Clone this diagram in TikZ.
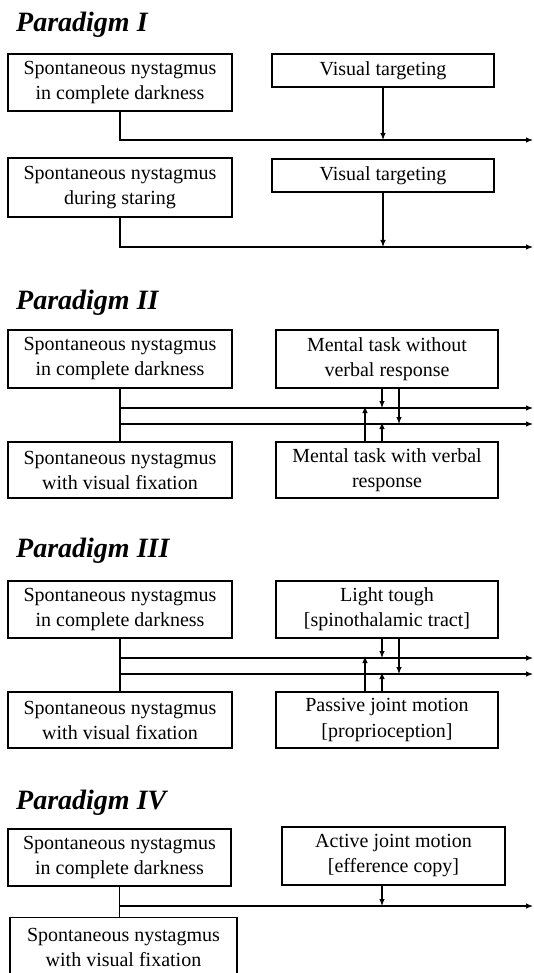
\documentclass[tikz,border=0pt]{standalone}
\usepackage{fontspec}
\setmainfont{Liberation Serif}
\usetikzlibrary{arrows.meta}
\begin{document}
\begin{tikzpicture}[x=1pt,y=-1pt,
  box/.style={draw, line width=1.1pt, align=center, inner sep=0pt, font=\fontsize{20}{25}\selectfont},
  ttl/.style={anchor=base west, inner sep=0pt, font=\fontsize{28}{30}\selectfont\bfseries\itshape},
  conn/.style={line width=1.1pt},
  arr/.style={line width=1.1pt, -{Latex[length=7pt,width=5.5pt]}}]
\useasboundingbox[fill=white] (0,0) rectangle (533,973);

% ---------- Paradigm I ----------
\node[ttl] (t1) at (16,32) {Paradigm I};
\node[box, minimum width=224pt, minimum height=57pt] (a1) at (120,82.5) {Spontaneous nystagmus\\in complete darkness};
\node[box, minimum width=222pt, minimum height=33pt] (v1) at (383,70.5) {Visual targeting};
\coordinate (e1) at (533,140);
\draw[arr] (a1.south) |- (e1);
\draw[arr] (v1.south) -- (v1.south |- e1);

\node[box, minimum width=224pt, minimum height=59pt] (a2) at (120,187.5) {Spontaneous nystagmus\\during staring};
\node[box, minimum width=222pt, minimum height=33pt] (v2) at (383,175.5) {Visual targeting};
\coordinate (e2) at (533,247);
\draw[arr] (a2.south) |- (e2);
\draw[arr] (v2.south) -- (v2.south |- e2);

% ---------- Paradigm II ----------
\node[ttl] (t2) at (16,309) {Paradigm II};
\node[box, minimum width=224pt, minimum height=58pt] (b1) at (120,359) {Spontaneous nystagmus\\in complete darkness};
\node[box, minimum width=224pt, minimum height=56pt] (b2) at (120,470) {Spontaneous nystagmus\\with visual fixation};
\node[box, minimum width=222pt, minimum height=58pt] (m1) at (387,359) {Mental task without\\verbal response};
\node[box, minimum width=222pt, minimum height=56pt] (m2) at (387,470) {Mental task with verbal\\response};
\coordinate (f1) at (533,408);
\coordinate (f2) at (533,424);
\draw[conn] (b1.south) -- (b2.north);
\draw[arr] (b1.south |- f1) -- (f1);
\draw[arr] (b1.south |- f2) -- (f2);
\draw[arr] ([xshift=-5pt]m1.south) -- ([xshift=-5pt]m1.south |- f1);
\draw[arr] ([xshift=12pt]m1.south) -- ([xshift=12pt]m1.south |- f2);
\draw[arr] ([xshift=-22pt]m2.north) -- ([xshift=-22pt,yshift=2pt]m2.north |- f1);
\draw[arr] ([xshift=-5pt]m2.north) -- ([xshift=-5pt,yshift=2pt]m2.north |- f2);

% ---------- Paradigm III ----------
\node[ttl] (t3) at (16,557) {Paradigm III};
\node[box, minimum width=224pt, minimum height=57pt] (c1) at (120,609.5) {Spontaneous nystagmus\\in complete darkness};
\node[box, minimum width=224pt, minimum height=56pt] (c2) at (120,720) {Spontaneous nystagmus\\with visual fixation};
\node[box, minimum width=222pt, minimum height=57pt] (l1) at (387,609.5) {Light tough\\{[}spinothalamic tract{]}};
\node[box, minimum width=222pt, minimum height=56pt] (l2) at (387,720) {Passive joint motion\\{[}proprioception{]}};
\coordinate (g1) at (533,658);
\coordinate (g2) at (533,674);
\draw[conn] (c1.south) -- (c2.north);
\draw[arr] (c1.south |- g1) -- (g1);
\draw[arr] (c1.south |- g2) -- (g2);
\draw[arr] ([xshift=-5pt]l1.south) -- ([xshift=-5pt]l1.south |- g1);
\draw[arr] ([xshift=12pt]l1.south) -- ([xshift=12pt]l1.south |- g2);
\draw[arr] ([xshift=-22pt]l2.north) -- ([xshift=-22pt,yshift=2pt]l2.north |- g1);
\draw[arr] ([xshift=-5pt]l2.north) -- ([xshift=-5pt,yshift=2pt]l2.north |- g2);

% ---------- Paradigm IV ----------
\node[ttl] (t4) at (16,809) {Paradigm IV};
\node[box, minimum width=223pt, minimum height=57pt] (d1) at (119.5,857.5) {Spontaneous nystagmus\\in complete darkness};
\node[box, minimum width=227pt, minimum height=60pt, anchor=north] (d2) at (123.5,917) {Spontaneous nystagmus\\with visual fixation};
\node[box, minimum width=223pt, minimum height=58pt] (j1) at (393.5,856) {Active joint motion\\{[}efference copy{]}};
\coordinate (h1) at (533,906);
\draw[conn] (d1.south) -- (d1.south |- d2.north);
\draw[arr] (d1.south |- h1) -- (h1);
\draw[arr] ([xshift=-11.5pt]j1.south) -- ([xshift=-11.5pt]j1.south |- h1);
\end{tikzpicture}
\end{document}
